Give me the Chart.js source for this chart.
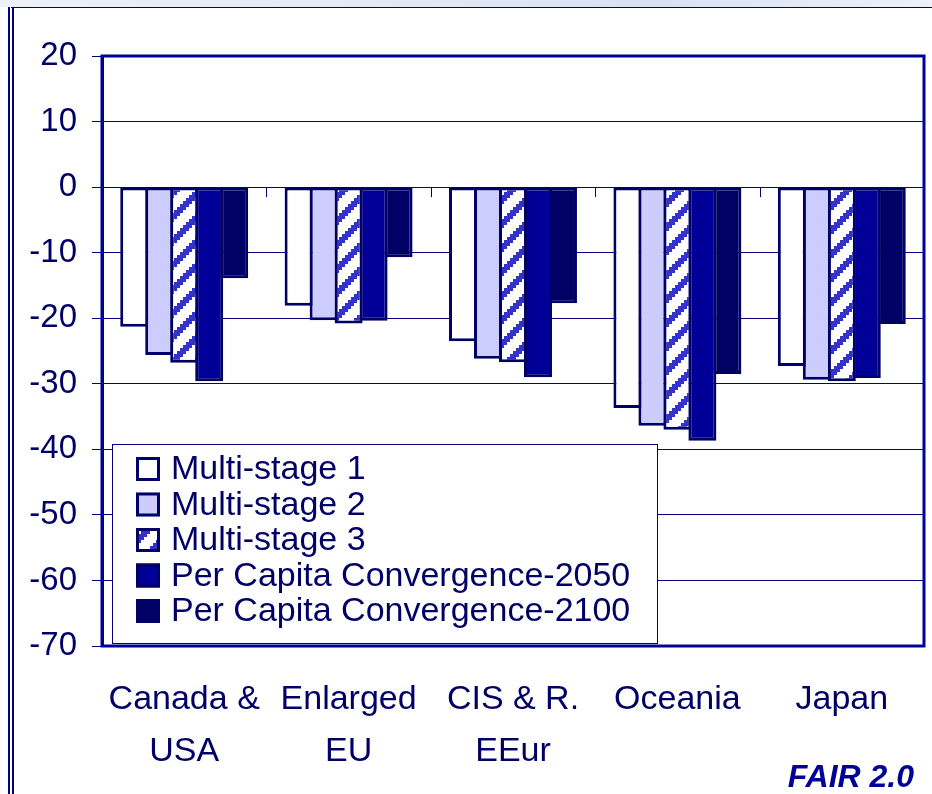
<!DOCTYPE html>
<html>
<head>
<meta charset="utf-8">
<script src="https://cdn.jsdelivr.net/npm/chart.js@4"></script>
<style>
  html, body { margin: 0; padding: 0; background: #fff; }
  body { width: 932px; height: 794px; position: relative; overflow: hidden; font-family: "Liberation Sans", Arial, sans-serif; }
  #strip { position: absolute; left: 0; top: 0; width: 932px; height: 7px;
    background: linear-gradient(90deg, #eef1f6 0%, #e3e9f2 45%, #d8e2f0 70%, #eef2f8 100%); }
  #frame { position: absolute; left: 8px; top: 7px; right: 0; bottom: 0;
    border-left: 6px double #000080; border-top: 1px solid #000080; }
  #chart { position: absolute; left: 0; top: 0; }
  #tag { position: absolute; right: 18px; top: 758px; line-height: 32px;
    font: italic bold 32px "Liberation Sans", Arial, sans-serif; color: #000099; }
</style>
</head>
<body>
<div id="strip"></div>
<div id="frame"></div>
<canvas id="chart" width="932" height="794"></canvas>
<div id="tag">FAIR 2.0</div>
<script>
// data
const categories = [['Canada &', 'USA'], ['Enlarged', 'EU'], ['CIS & R.', 'EEur'], ['Oceania'], ['Japan']];
const seriesNames = ['Multi-stage 1', 'Multi-stage 2', 'Multi-stage 3', 'Per Capita Convergence-2050', 'Per Capita Convergence-2100'];
const multiStage1 = [-21.3, -18.1, -23.5, -33.7, -27.3];
const multiStage2 = [-25.6, -20.3, -26.2, -36.4, -29.4];
const multiStage3 = [-26.8, -20.8, -26.7, -37.0, -29.6];
const pcc2050 = [-29.6, -20.4, -29.0, -38.7, -29.1];
const pcc2100 = [-13.9, -10.7, -17.7, -28.5, -20.9];
const yTicks = [20, 10, 0, -10, -20, -30, -40, -50, -60, -70];

const NAVY = '#000066';
const AXIS = '#000080';

const canvas = document.getElementById('chart');
const ctx = canvas.getContext('2d');

// diagonal hatch for Multi-stage 3
function makeHatch() {
  const T = 24;
  const tile = document.createElement('canvas');
  tile.width = T; tile.height = T;
  const g = tile.getContext('2d');
  g.fillStyle = '#ffffff';
  g.fillRect(0, 0, T, T);
  g.fillStyle = '#3333cc';
  for (let y = 0; y < T; y += 3) {
    for (let x = 0; x < T; x += 3) {
      if ((x + y) % T < 9) g.fillRect(x, y, 3, 3);
    }
  }
  return ctx.createPattern(tile, 'repeat');
}
const hatch = makeHatch();
const fills = ['#ffffff', '#ccccff', hatch, '#000099', '#000066'];
const values = [multiStage1, multiStage2, multiStage3, pcc2050, pcc2100];

// plot frame + small ticks on the zero line
const framePlugin = {
  id: 'framePlugin',
  afterDatasetsDraw(chart) {
    const { ctx, chartArea: a, scales } = chart;
    const x = scales.x, y = scales.y;
    ctx.save();
    const y0 = y.getPixelForValue(0);
    ctx.strokeStyle = AXIS;
    ctx.lineWidth = 1;
    for (let i = 1; i < categories.length; i++) {
      const px = Math.round((x.getPixelForValue(i - 1) + x.getPixelForValue(i)) / 2) + 0.5;
      ctx.beginPath();
      ctx.moveTo(px, y0);
      ctx.lineTo(px, y0 + 10);
      ctx.stroke();
    }
    ctx.lineWidth = 3;
    ctx.strokeStyle = '#000099';
    ctx.strokeRect(a.left, a.top, a.right - a.left, a.bottom - a.top);
    ctx.restore();
  }
};

// legend box drawn inside the plot
const legendPlugin = {
  id: 'legendPlugin',
  afterDraw(chart) {
    const { ctx } = chart;
    ctx.save();
    ctx.fillStyle = '#ffffff';
    ctx.fillRect(112, 444, 545, 199);
    ctx.strokeStyle = AXIS;
    ctx.lineWidth = 1;
    ctx.strokeRect(112.5, 444.5, 545, 199);
    ctx.font = '34px "Liberation Sans", Arial, sans-serif';
    ctx.textBaseline = 'middle';
    chart.data.datasets.forEach((ds, i) => {
      const cy = 469 + i * 35.5;
      ctx.fillStyle = ds.backgroundColor;
      ctx.fillRect(136, cy - 12, 24, 24);
      ctx.strokeStyle = NAVY;
      ctx.lineWidth = 3;
      ctx.strokeRect(137.5, cy - 10.5, 21, 21);
      ctx.fillStyle = NAVY;
      ctx.fillText(ds.label, 171, cy + 1);
    });
    ctx.restore();
  }
};

new Chart(canvas, {
  type: 'bar',
  data: {
    labels: categories,
    datasets: values.map((v, i) => ({
      label: seriesNames[i],
      data: v,
      backgroundColor: fills[i],
      borderColor: NAVY,
      borderWidth: 3,
      borderSkipped: false,
      categoryPercentage: 0.76,
      barPercentage: 1.12
    }))
  },
  options: {
    responsive: false,
    animation: false,
    devicePixelRatio: 1,
    layout: { padding: { top: 56, right: 8, bottom: 0, left: 0 } },
    plugins: {
      legend: { display: false },
      tooltip: { enabled: false }
    },
    scales: {
      x: {
        grid: { display: false, drawTicks: false },
        border: { display: false },
        ticks: {
          color: NAVY,
          padding: 28,
          maxRotation: 0,
          autoSkip: false,
          font: { family: '"Liberation Sans", Arial, sans-serif', size: 34, lineHeight: '52px' }
        },
        afterFit(scale) { scale.height = 148; }
      },
      y: {
        min: -70,
        max: 20,
        afterBuildTicks(scale) { scale.ticks = yTicks.map(v => ({ value: v })); },
        grid: { color: AXIS, lineWidth: 1, tickLength: 10, tickColor: AXIS },
        border: { color: '#000099', width: 3 },
        ticks: {
          color: NAVY,
          padding: 15,
          font: { family: '"Liberation Sans", Arial, sans-serif', size: 33 }
        },
        afterFit(scale) { scale.width = 102; }
      }
    }
  },
  plugins: [framePlugin, legendPlugin]
});
</script>
</body>
</html>
